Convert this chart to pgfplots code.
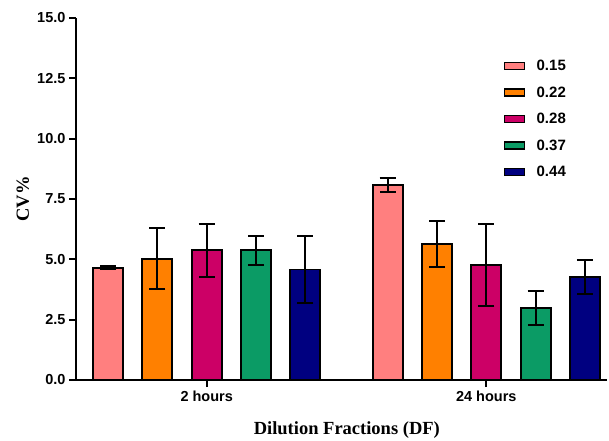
\documentclass[border=0pt]{standalone}
\usepackage{fontspec}
\setmainfont{Liberation Serif}
\newfontfamily\arialfont{Liberation Sans}
\usepackage{pgfplots}
\pgfplotsset{compat=1.18}
\definecolor{c1}{HTML}{FF7F7F}
\definecolor{c2}{HTML}{FF8000}
\definecolor{c3}{HTML}{CC0066}
\definecolor{c4}{HTML}{0B9B65}
\definecolor{c5}{HTML}{000080}
\pgfplotsset{
  mybar/.style={draw=black, line width=1.9pt, fill=#1,
    legend image code/.code={\draw[line width=1.4pt, draw=black, fill=#1] (0pt,-3.5pt) rectangle (20pt,3.5pt); \path (29pt,0pt);},
    error bars/y dir=both, error bars/y explicit,
    error bars/error bar style={line width=2pt, black, solid},
    error bars/error mark options={rotate=90, mark size=8pt, line width=2pt, black}}
}
\begin{document}
\begin{tikzpicture}
\path[use as bounding box] (0,0) rectangle (609pt,440pt);
\begin{axis}[
  at={(76pt,60pt)}, anchor=south west,
  scale only axis, width=531pt, height=362pt,
  xmin=-0.4675, xmax=1.4317, ymin=0, ymax=15,
  axis lines=left, axis line style={-, line width=2pt},
  ytick={0,2.5,5,7.5,10,12.5,15},
  xtick={0,1}, xticklabels={2 hours, 24 hours},
  tick align=outside, major tick length=7pt,
  tick style={line width=2pt, black},
  /pgf/number format/assume math mode=true,
  y tick label style={/pgf/number format/fixed, /pgf/number format/fixed zerofill, /pgf/number format/precision=1},
  ticklabel style={font=\arialfont\bfseries\fontsize{14.5}{17}\selectfont},
  ylabel={CV\%}, xlabel={Dilution Fractions (DF)},
  label style={font=\bfseries\fontsize{18.5}{22}\selectfont},
  ylabel style={at={(axis description cs:-0.1,0.5)}, anchor=center},
  xlabel style={at={(axis description cs:0.51,-0.138)}, anchor=center},
  ybar, bar width=30pt,
  legend style={at={(axis description cs:0.80,0.895)}, anchor=north west, draw=none, fill=none,
    font=\arialfont\bfseries\fontsize{15}{18}\selectfont, row sep=10.5pt},
  legend cell align=left,
]
\addplot[mybar=c1, bar shift=-98.6pt] coordinates {(0,4.65) +- (0,0.07) (1,8.07) +- (0,0.3)};
\addplot[mybar=c2, bar shift=-49.3pt] coordinates {(0,5.03) +- (0,1.25) (1,5.63) +- (0,0.95)};
\addplot[mybar=c3, bar shift=0pt] coordinates {(0,5.38) +- (0,1.1) (1,4.78) +- (0,1.7)};
\addplot[mybar=c4, bar shift=49.3pt] coordinates {(0,5.38) +- (0,0.6) (1,2.98) +- (0,0.7)};
\addplot[mybar=c5, bar shift=98.6pt] coordinates {(0,4.58) +- (0,1.4) (1,4.28) +- (0,0.7)};
\legend{0.15,0.22,0.28,0.37,0.44}
\end{axis}
\end{tikzpicture}
\end{document}
